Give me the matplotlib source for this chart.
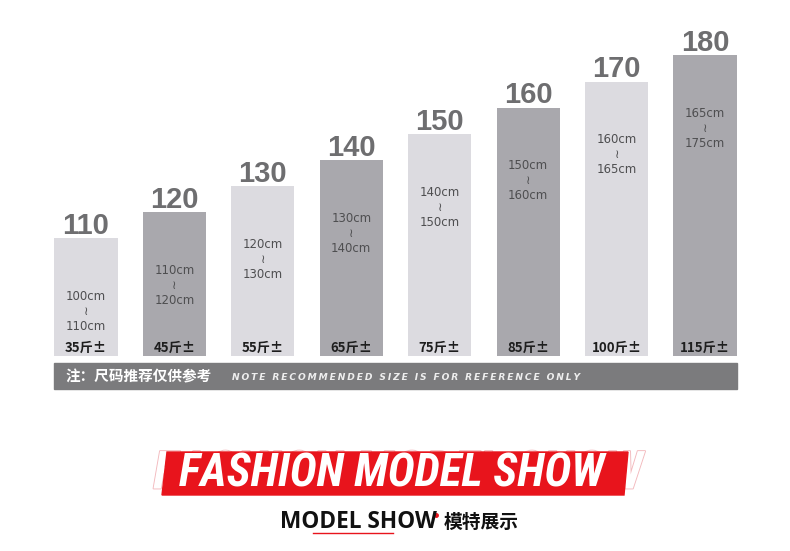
import matplotlib
matplotlib.use("Agg")
import matplotlib.pyplot as plt
from matplotlib import font_manager
from matplotlib.font_manager import FontProperties
from matplotlib.patches import Rectangle, Polygon
import matplotlib.patheffects as pe

# chart data
heights = [110, 120, 130, 140, 150, 160, 170, 180]
cm_low = ["100cm", "110cm", "120cm", "130cm", "140cm", "150cm", "160cm", "165cm"]
cm_high = ["110cm", "120cm", "130cm", "140cm", "150cm", "160cm", "165cm", "175cm"]
weights = ["35斤±", "45斤±", "55斤±", "65斤±", "75斤±", "85斤±", "100斤±", "115斤±"]

note_cn = "注：尺码推荐仅供参考"
note_en = "NOTE RECOMMENDED SIZE IS FOR REFERENCE ONLY"
title_big = "FASHION MODEL SHOW"
title_small = "MODEL SHOW"
title_cn = "模特展示"

W, H = 790, 551
CJK = ["Noto Sans CJK SC", "DejaVu Sans"]


def fx(x):
    return x / W


def fy(y):
    return 1 - y / H


fig = plt.figure(figsize=(W / 100, H / 100), dpi=100)
fig.patch.set_facecolor("white")

ax = fig.add_axes([fx(41.8), fy(356), 707.4 / W, 356 / H])
ax.set_xlim(-0.5, 7.5)
ax.set_ylim(65, 65 + 356 / 2.614)
ax.axis("off")

light, dark = "#dcdbe0", "#a9a8ad"
colors = [light if i % 2 == 0 else dark for i in range(len(heights))]
idx = list(range(len(heights)))
ax.bar(idx, heights, width=0.715, color=colors, zorder=1)

for i, h in enumerate(heights):
    ax.text(i, h + 1.6, str(h), ha="center", va="baseline", fontsize=21,
            fontweight="bold", color="#6e6e70", family="Liberation Sans")
    ax.text(i, h - 28, cm_low[i] + "\n≀\n" + cm_high[i], ha="center", va="center",
            fontsize=8.5, color="#4e4e50", linespacing=1.2, family="DejaVu Sans")
    ax.text(i, 68.1, weights[i], ha="center", va="center", fontsize=9.5,
            fontweight="bold", color="#1e1e1e", family=CJK)

# gray note band
fig.add_artist(Rectangle((fx(54), fy(389)), 683 / W, 26 / H, transform=fig.transFigure,
                         color="#7b7b7d", zorder=0))
fig.text(fx(66), fy(376), note_cn, ha="left", va="center", fontsize=10.5,
         fontweight="bold", color="white", family=CJK)
fig.text(fx(232), fy(377), "\u2009".join(note_en), ha="left", va="center", fontsize=6.6,
         fontweight="bold", style="italic", color="#eeeeee", family="DejaVu Sans")

# narrow font for the big title, if one is installed
tfile = None
for f in font_manager.fontManager.ttflist:
    fn = f.fname.lower()
    if ("narrow" in fn or "condensed" in fn) and "bold" in fn:
        if tfile is None or "italic" in fn or "oblique" in fn:
            tfile = f.fname
if tfile:
    tprop = FontProperties(fname=tfile, size=30)
else:
    tprop = FontProperties(family="Liberation Sans", weight="bold", style="italic", size=30)

fig.add_artist(Polygon([(fx(167), fy(452)), (fx(628), fy(452)), (fx(624), fy(495)),
                        (fx(162), fy(495))], closed=True, transform=fig.transFigure,
                       color="#e8141c", zorder=2))
back = fig.text(fx(398), fy(474), title_big, ha="center", va="center", fontproperties=tprop,
                color="white", zorder=1,
                path_effects=[pe.withStroke(linewidth=1.3, foreground="#f3b9bd")])
front = fig.text(fx(392), fy(474), title_big, ha="center", va="center", fontproperties=tprop,
                 color="white", zorder=3)

# scale the title so it spans the red band like the original
fig.canvas.draw()
r = fig.canvas.get_renderer()
wpx = front.get_window_extent(r).width
size = 30 * 425 / wpx
front.set_fontsize(size)
back.set_fontsize(size * 1.15)

fig.text(fx(280), fy(522), title_small, ha="left", va="center", fontsize=16.3,
         fontweight="bold", color="#111111", family="Open Sans")
fig.add_artist(plt.Line2D([fx(313), fx(393)], [fy(533), fy(533)], transform=fig.transFigure,
                          color="#e8141c", lw=1))
fig.add_artist(plt.Line2D([fx(436)], [fy(515)], transform=fig.transFigure, marker="o",
                          ms=2.5, color="#e8141c"))
fig.text(fx(444), fy(522), title_cn, ha="left", va="center", fontsize=13.5,
         fontweight="bold", color="#111111", family=CJK)

fig.savefig("out.png", dpi=100, facecolor="white")
